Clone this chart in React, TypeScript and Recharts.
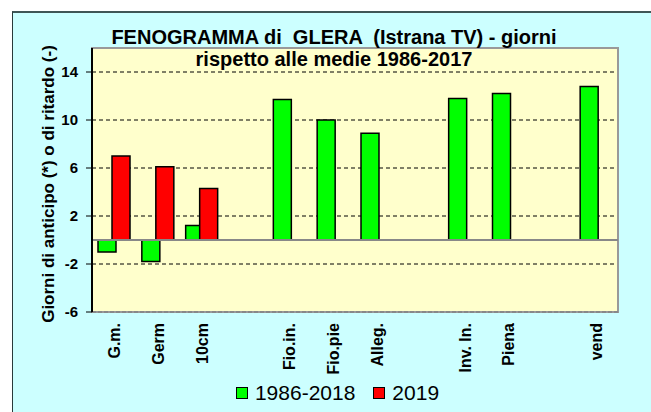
import {
  BarChart,
  Bar,
  XAxis,
  YAxis,
  CartesianGrid,
  ReferenceLine,
  ReferenceArea,
  Label,
} from "recharts";

const stages = [
  "G.m.",
  "Germ",
  "10cm",
  "",
  "Fio.in.",
  "Fio.pie",
  "Alleg.",
  "",
  "Inv. In.",
  "Piena",
  "",
  "vend",
];
const avg19862018 = [-1, -1.8, 1.2, null, 11.7, 10, 8.9, null, 11.8, 12.2, null, 12.8];
const year2019 = [7, 6.1, 4.3, null, null, null, null, null, null, null, null, null];
const yTicks = [-6, -2, 2, 6, 10, 14];
const gridValues = [-2, 2, 6, 10, 14];
const legendItems = [
  { name: "1986-2018", color: "#00ff00" },
  { name: "2019", color: "#ff0000" },
];

const data = stages.map((s, i) => ({
  stage: s,
  avg: avg19862018[i],
  y2019: year2019[i],
}));

const FONT = "'Liberation Sans', Arial, sans-serif";

function StageTick({ x, y, payload }: any) {
  return (
    <text
      transform={`translate(${x + 6},${y}) rotate(-90)`}
      textAnchor="end"
      fontFamily={FONT}
      fontWeight="bold"
      fontSize={16}
      fill="#000"
    >
      {payload.value}
    </text>
  );
}

function LegendBox() {
  return (
    <div
      style={{
        position: "absolute",
        left: 0,
        top: 381,
        width: 651,
        display: "flex",
        justifyContent: "center",
        paddingLeft: 24,
        boxSizing: "border-box",
        fontFamily: FONT,
        fontSize: 21,
        lineHeight: "24px",
      }}
    >
      {legendItems.map((it, i) => (
        <div
          key={it.name}
          style={{ display: "flex", alignItems: "center", marginLeft: i ? 18 : 0 }}
        >
          <span
            style={{
              width: 10,
              height: 10,
              background: it.color,
              border: "1px solid #000",
              marginRight: 7,
            }}
          />
          <span>{it.name}</span>
        </div>
      ))}
    </div>
  );
}

export default function App() {
  return (
    <div style={{ position: "absolute", left: 0, top: 0, width: 651, height: 412, overflow: "hidden", background: "#fff" }}>
      <div
        style={{
          position: "absolute",
          left: 12,
          top: 11,
          width: 660,
          height: 420,
          background: "#ccffff",
          borderTop: "2px solid #3f5656",
          borderLeft: "1px solid #2a3a3a",
        }}
      />
      <div style={{ position: "absolute", left: 0, top: 0 }}>
        <BarChart
          width={651}
          height={412}
          data={data}
          margin={{ top: 48, right: 33, bottom: 70, left: 40 }}
          barCategoryGap={6}
          barGap={-4}
        >
          <CartesianGrid
            vertical={false}
            horizontalValues={gridValues}
            stroke="#000"
            strokeDasharray="4 3"
            fill="#ffffcc"
            fillOpacity={1}
          />
          <ReferenceArea y1={-6} y2={16} fill="none" stroke="#999" strokeWidth={2} ifOverflow="visible" />
          <XAxis
            dataKey="stage"
            height={30}
            tick={<StageTick />}
            tickLine={false}
            tickSize={0}
            tickMargin={11}
            interval={0}
            axisLine={{ stroke: "#888", strokeDasharray: "4 2", strokeWidth: 2 }}
          />
          <YAxis
            domain={[-6, 16]}
            ticks={yTicks}
            width={52}
            tickSize={6}
            tickMargin={8}
            tick={{ fill: "#000", fontFamily: FONT, fontWeight: "bold", fontSize: 15 }}
            tickLine={{ stroke: "#000" }}
            axisLine={{ stroke: "#000", strokeWidth: 2 }}
          >
            <Label
              content={({ viewBox }: any) => {
                const cx = viewBox.x + 8;
                const cy = viewBox.y + viewBox.height / 2 + 4;
                return (
                  <text
                    x={cx}
                    y={cy}
                    transform={`rotate(-90,${cx},${cy})`}
                    textAnchor="middle"
                    dominantBaseline="central"
                    fontFamily={FONT}
                    fontWeight="bold"
                    fontSize={17}
                    fill="#000"
                  >
                    Giorni di anticipo (*) o di ritardo (-)
                  </text>
                );
              }}
            />
          </YAxis>
          <ReferenceLine y={0} stroke="#888" strokeWidth={2} />
          <Bar dataKey="avg" name="1986-2018" fill="#00ff00" stroke="#000" strokeWidth={1.5} isAnimationActive={false} />
          <Bar dataKey="y2019" name="2019" fill="#ff0000" stroke="#000" strokeWidth={1.5} isAnimationActive={false} />
        </BarChart>
      </div>
      <LegendBox />
      <div
        style={{
          position: "absolute",
          left: 0,
          width: 668,
          top: 27,
          textAlign: "center",
          fontFamily: FONT,
          fontWeight: "bold",
          fontSize: 20,
          lineHeight: 1,
          whiteSpace: "pre",
        }}
      >
        {"FENOGRAMMA di  GLERA  (Istrana TV) - giorni"}
      </div>
      <div
        style={{
          position: "absolute",
          left: 0,
          width: 668,
          top: 49,
          textAlign: "center",
          fontFamily: FONT,
          fontWeight: "bold",
          fontSize: 20,
          lineHeight: 1,
        }}
      >
        rispetto alle medie 1986-2017
      </div>
    </div>
  );
}
